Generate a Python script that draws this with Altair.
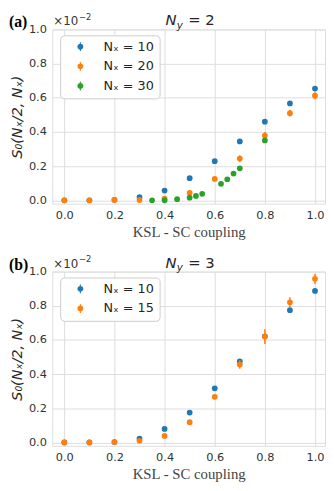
import altair as alt
import pandas as pd

# ---------------- data ----------------
coupling = [0.0, 0.1, 0.2, 0.3, 0.4, 0.5, 0.6, 0.7, 0.8, 0.9, 1.0]

# panel (a): N_y = 2
ny2_nx10 = [0.0, 0.0, 0.003, 0.019, 0.057, 0.129, 0.229, 0.344, 0.46, 0.567, 0.654]
ny2_nx10_err = [0.001, 0.001, 0.002, 0.003, 0.004, 0.005, 0.006, 0.007, 0.008, 0.008, 0.008]
ny2_nx20 = [0.0, 0.0, 0.002, 0.002, 0.01, 0.044, 0.125, 0.244, 0.379, 0.51, 0.612]
ny2_nx20_err = [0.002, 0.002, 0.003, 0.003, 0.005, 0.008, 0.01, 0.02, 0.02, 0.02, 0.02]
ny2_nx30_x = [0.35, 0.4, 0.45, 0.5, 0.525, 0.55, 0.625, 0.65, 0.675, 0.7, 0.8]
ny2_nx30 = [0.0, 0.0, 0.006, 0.015, 0.025, 0.038, 0.096, 0.123, 0.156, 0.187, 0.35]
ny2_nx30_err = [0.003, 0.003, 0.004, 0.005, 0.005, 0.005, 0.006, 0.007, 0.008, 0.01, 0.015]

# panel (b): N_y = 3
ny3_nx10 = [0.0, 0.0, 0.002, 0.023, 0.079, 0.175, 0.317, 0.475, 0.621, 0.774, 0.887]
ny3_nx10_err = [0.001, 0.001, 0.002, 0.004, 0.005, 0.006, 0.008, 0.01, 0.015, 0.008, 0.008]
ny3_nx15 = [0.0, 0.0, 0.002, 0.01, 0.038, 0.119, 0.267, 0.456, 0.62, 0.82, 0.958]
ny3_nx15_err = [0.001, 0.001, 0.002, 0.004, 0.006, 0.008, 0.012, 0.025, 0.043, 0.03, 0.03]

labels_a = ["Nₓ = 10", "Nₓ = 20", "Nₓ = 30"]
labels_b = ["Nₓ = 10", "Nₓ = 15"]
BLUE, ORANGE, GREEN = "#1f77b4", "#ff7f0e", "#2ca02c"

W, H = 277, 177
TICK_COLOR = "#333333"
GRID = "#dddddd"

# symbol: filled dot with a vertical error bar through it
SYMBOL = ("M-0.667,0 A0.667,0.667 0 1,1 0.667,0 A0.667,0.667 0 1,1 -0.667,0 Z "
          "M-0.12,-1 L0.12,-1 L0.12,-0.66 L-0.12,-0.66 Z "
          "M-0.12,0.66 L0.12,0.66 L0.12,1 L-0.12,1 Z")

xscale = alt.Scale(domain=[-0.048, 1.04], nice=False, zero=False)
yscale = alt.Scale(domain=[-0.02, 1.0], nice=False, zero=False)
ticks = [0.0, 0.2, 0.4, 0.6, 0.8, 1.0]

xaxis = alt.Axis(values=ticks, format=".1f", title="KSL - SC coupling",
                 titleFont="Liberation Serif", titleFontSize=15, titleFontWeight="normal",
                 titleColor="#444444", titlePadding=4,
                 labelFont="DejaVu Sans", labelFontSize=11.5, labelColor=TICK_COLOR,
                 labelPadding=6, labelFlush=False, labelOverlap=False,
                 ticks=False, domain=False, grid=True, gridColor=GRID, gridWidth=1)
yaxis = alt.Axis(values=ticks, format=".1f", title="S₀(Nₓ/2, Nₓ)",
                 titleFont="DejaVu Sans", titleFontSize=14.5, titleFontWeight="normal",
                 titleFontStyle="italic", titleColor="#262626", titlePadding=4,
                 labelFont="DejaVu Sans", labelFontSize=11.5, labelColor=TICK_COLOR,
                 labelPadding=6, labelFlush=False, labelOverlap=False,
                 ticks=False, domain=False, grid=True, gridColor=GRID, gridWidth=1)


def legend():
    return alt.Legend(orient="none", legendX=8, legendY=6, title=None,
                      fillColor="white", strokeColor="#cccccc", cornerRadius=4,
                      padding=5, symbolType=SYMBOL, symbolSize=81, symbolStrokeWidth=0,
                      symbolOpacity=1, symbolOffset=9, labelOffset=17, rowPadding=6,
                      labelFont="DejaVu Sans", labelFontSize=13, labelColor="#262626")


def series(name, xs, ys, es, color, domain, colors):
    df = pd.DataFrame({"x": xs, "y": ys,
                       "lo": [a - b for a, b in zip(ys, es)],
                       "hi": [a + b for a, b in zip(ys, es)],
                       "series": [name] * len(xs)})
    rule = alt.Chart(df).mark_rule(strokeWidth=1.5, color=color).encode(
        x=alt.X("x:Q", scale=xscale, axis=xaxis),
        y=alt.Y("lo:Q", scale=yscale, axis=yaxis),
        y2="hi:Q")
    pts = alt.Chart(df).mark_circle(size=34, opacity=1).encode(
        x=alt.X("x:Q", scale=xscale, axis=xaxis),
        y=alt.Y("y:Q", scale=yscale, axis=yaxis),
        color=alt.Color("series:N", scale=alt.Scale(domain=domain, range=colors),
                        legend=legend()))
    return [rule, pts]


one = pd.DataFrame({"k": [0]})


def text(t, x, y, size, **kw):
    return alt.Chart(one).mark_text(text=t, fontSize=size, align="left", **kw).encode(
        x=alt.value(x), y=alt.value(y))


def decorations(tag, ny):
    return [
        text(tag, -44, -15, 16, font="Liberation Serif", fontWeight="bold",
             baseline="top", color="black"),
        text("×10", 1, -4, 12, font="DejaVu Sans", baseline="alphabetic", color=TICK_COLOR),
        text("−2", 27, -10, 8.5, font="DejaVu Sans", baseline="alphabetic", color=TICK_COLOR),
        text("N", 115, -4, 15, font="DejaVu Sans", fontStyle="italic",
             baseline="alphabetic", color="#262626"),
        text("y", 126.5, -0.5, 10.5, font="DejaVu Sans", fontStyle="italic",
             baseline="alphabetic", color="#262626"),
        text("= " + ny, 138, -4, 15, font="DejaVu Sans",
             baseline="alphabetic", color="#262626"),
    ]


cols_a = [BLUE, ORANGE, GREEN]
layers_a = (series(labels_a[0], coupling, ny2_nx10, ny2_nx10_err, BLUE, labels_a, cols_a)
            + series(labels_a[1], coupling, ny2_nx20, ny2_nx20_err, ORANGE, labels_a, cols_a)
            + series(labels_a[2], ny2_nx30_x, ny2_nx30, ny2_nx30_err, GREEN, labels_a, cols_a)
            + decorations("(a)", "2"))
panel_a = alt.layer(*layers_a).properties(width=W, height=H)

cols_b = [BLUE, ORANGE]
layers_b = (series(labels_b[0], coupling, ny3_nx10, ny3_nx10_err, BLUE, labels_b, cols_b)
            + series(labels_b[1], coupling, ny3_nx15, ny3_nx15_err, ORANGE, labels_b, cols_b)
            + decorations("(b)", "3"))
panel_b = alt.layer(*layers_b).properties(width=W, height=H)

chart = (alt.vconcat(panel_a, panel_b, spacing=14)
         .resolve_scale(color="independent")
         .resolve_legend(color="independent")
         .properties(padding=0, background="white")
         .configure_view(stroke=GRID, strokeWidth=1))

chart.save("out.html", embed_options={"renderer": "svg", "actions": False})
